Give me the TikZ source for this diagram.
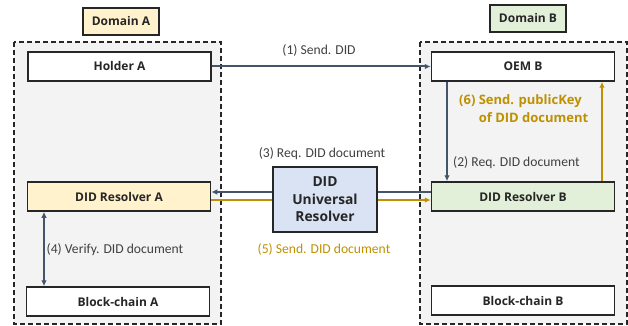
\documentclass[tikz,border=0pt]{standalone}
\usepackage{fontspec}
\setmainfont{Open Sans}
\newfontfamily\lblfont{Carlito}
\usepackage{xcolor}
\usetikzlibrary{positioning,arrows.meta}
\definecolor{slate}{HTML}{44546A}
\definecolor{gold}{HTML}{BF9000}
\definecolor{panel}{HTML}{F2F3F2}
\definecolor{paleyellow}{HTML}{FFF2CC}
\definecolor{palegreen}{HTML}{E2F0D9}
\definecolor{paleblue}{HTML}{DAE3F3}
\definecolor{ink}{HTML}{262626}
\definecolor{greytext}{HTML}{404040}

\begin{document}
\begin{tikzpicture}[x=1pt,y=-1pt,
    box/.style={draw=ink, line width=1.5pt, fill=white, minimum width=183pt, minimum height=29pt, inner sep=0pt, text=ink, font=\bfseries\fontsize{12}{14}\selectfont},
    tag/.style={draw=ink, line width=1.3pt, minimum width=76pt, minimum height=27pt, inner sep=0pt, text=ink, font=\bfseries\fontsize{12}{14}\selectfont},
    zone/.style={draw=ink, line width=1.4pt, dash pattern=on 5pt off 3pt, fill=panel},
    lbl/.style={text=greytext, font=\lblfont\fontsize{13.6}{15}\selectfont, inner sep=0pt},
    dk/.style={draw=slate, line width=2pt, -{Latex[length=6pt,width=5.5pt]}},
    gd/.style={draw=gold, line width=2pt, -{Latex[length=6pt,width=5.5pt]}}]
    \useasboundingbox (0,0) rectangle (628,326);
    \draw[zone] (14,42) rectangle (221,324);
    \draw[zone] (420,42) rectangle (627,324);
    \node[tag, fill=paleyellow] (domA) at (121,21.5) {Domain A};
    \node[tag, fill=palegreen] (domB) at (528,18.5) {Domain B};
    \node[box] (holderA) at (119.5,66.5) {Holder A};
    \node[box, fill=paleyellow] (resA) at (119,196.5) {DID Resolver A};
    \node[box] (chainA) at (118,301.5) {Block-chain A};
    \node[box] (oemB) at (523,66.5) {OEM B};
    \node[box, fill=palegreen] (resB) at (523,196.5) {DID Resolver B};
    \node[box] (chainB) at (523,300.5) {Block-chain B};
    \draw[dk] (holderA) -- (oemB);
    \draw[dk] ([yshift=4.5pt]resB.west) -- ([yshift=4.5pt]resA.east);
    \draw[gd] ([yshift=-3.5pt]resA.east) -- ([yshift=-3.5pt]resB.west);
    \draw[dk] ([xshift=-76pt]oemB.south) -- ([xshift=-76pt]resB.north);
    \draw[gd] ([xshift=79pt]resB.north) -- ([xshift=79pt]oemB.south);
    \draw[dk, {Latex[length=6pt,width=5.5pt]}-{Latex[length=6pt,width=5.5pt]}] ([xshift=-75pt]resA.south) -- ([xshift=-75pt]resA.south |- chainA.north);
    \node[draw=ink, line width=1.5pt, fill=paleblue, minimum width=104pt, minimum height=65pt, align=center, text=ink, font=\bfseries\fontsize{13.8}{17.5}\selectfont] (uniRes) at (325,199.5) {DID\\Universal\\Resolver};
    \node[lbl] (sendDid) at (319,50) {(1) Send. DID};
    \node[lbl, anchor=west] (reqB) at (453,163) {(2) Req. DID document};
    \node[lbl] (reqUni) at (322,154) {(3) Req. DID document};
    \node[lbl] (verifyA) at (115,250) {(4) Verify. DID document};
    \node[lbl, text=gold] (sendDoc) at (324,249) {(5) Send. DID document};
    \node[anchor=west, align=left, inner sep=0pt, text=gold, font=\bfseries\fontsize{13}{18}\selectfont] (sendKey) at (459,110) {(6) Send. publicKey\\\phantom{(6) }of DID document};
\end{tikzpicture}
\end{document}
